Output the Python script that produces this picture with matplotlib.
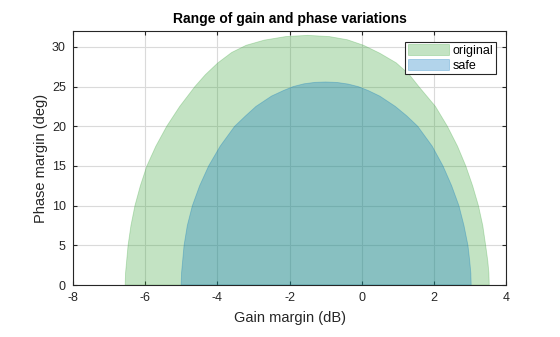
import matplotlib
matplotlib.use("Agg")
import matplotlib.pyplot as plt

plt.rcParams['font.family'] = ['Liberation Sans', 'DejaVu Sans']
plt.rcParams['axes.unicode_minus'] = False

# boundary of each region (gain dB, phase deg)
orig_gain = [-6.55, -6.54, -6.51, -6.47, -6.39, -6.28, -6.13, -5.95, -5.70, -5.40,
             -5.04, -4.62, -4.33, -3.98, -3.60, -3.20, -2.70, -2.10, -1.50, -0.90,
             -0.40, 0.05, 0.50, 0.95, 1.30, 1.58, 2.04, 2.37, 2.65, 2.88,
             3.07, 3.23, 3.35, 3.43, 3.49, 3.52, 3.53]
orig_phase = [0, 1.5, 3, 5, 7.5, 10, 12.5, 15, 17.5, 20,
              22.5, 25, 26.5, 28, 29.3, 30.2, 30.85, 31.3, 31.45, 31.3,
              30.9, 30.2, 29.2, 28, 26.6, 25, 22.5, 20, 17.5, 15,
              12.5, 10, 7.5, 5, 3, 1.5, 0]

safe_gain = [-5.00, -4.99, -4.96, -4.92, -4.83, -4.69, -4.49, -4.24, -3.92, -3.52,
             -3.22, -2.93, -2.50, -2.17, -1.90, -1.60, -1.30, -1.00, -0.68, -0.38,
             -0.10, 0.18, 0.50, 0.93, 1.25, 1.55, 1.95, 2.25, 2.49, 2.69,
             2.83, 2.94, 2.99, 3.02, 3.03]
safe_phase = [0, 1.5, 3, 5, 7.5, 10, 12.5, 15, 17.5, 20,
              21.3, 22.5, 23.8, 24.5, 25, 25.35, 25.53, 25.58, 25.52, 25.32,
              25, 24.5, 23.8, 22.5, 21.3, 20, 17.5, 15, 12.5, 10,
              7.5, 5, 3, 1.5, 0]

fig = plt.figure(figsize=(5.6, 3.37), dpi=100)
ax = fig.add_axes([0.130, 0.154, 0.774, 0.754])

ax.fill(orig_gain, orig_phase, facecolor='#3aa53a', alpha=0.3,
        edgecolor='#3aa53a', lw=0.6, label='original', zorder=2)
ax.fill(safe_gain, safe_phase, facecolor='#0072bd', alpha=0.3,
        edgecolor='#0072bd', lw=0.6, label='safe', zorder=3)

ax.set_xlim(-8, 4)
ax.set_ylim(0, 32)
ax.set_xticks(range(-8, 5, 2))
ax.set_yticks(range(0, 31, 5))
ax.grid(True, color='#dadada', lw=0.8, zorder=1)
ax.set_axisbelow(True)
ax.tick_params(direction='in', top=True, right=True, labelsize=9, length=3,
               colors='#262626', pad=5)
for s in ax.spines.values():
    s.set_color('#262626')
    s.set_linewidth(0.8)

ax.set_xlabel('Gain margin (dB)', fontsize=10.5, color='#262626', labelpad=5)
ax.set_ylabel('Phase margin (deg)', fontsize=10.5, color='#262626', labelpad=3)
ax.set_title('Range of gain and phase variations', fontsize=10, fontweight='bold',
             color='#000000', pad=6)

leg = ax.legend(loc='upper right', fontsize=9, fancybox=False, framealpha=1,
                edgecolor='#262626', handlelength=3.3, handleheight=0.9,
                borderpad=0.2, labelspacing=0.2, handletextpad=0.25,
                borderaxespad=0.85)
leg.get_frame().set_linewidth(0.8)

fig.savefig('out.png', dpi=100)
